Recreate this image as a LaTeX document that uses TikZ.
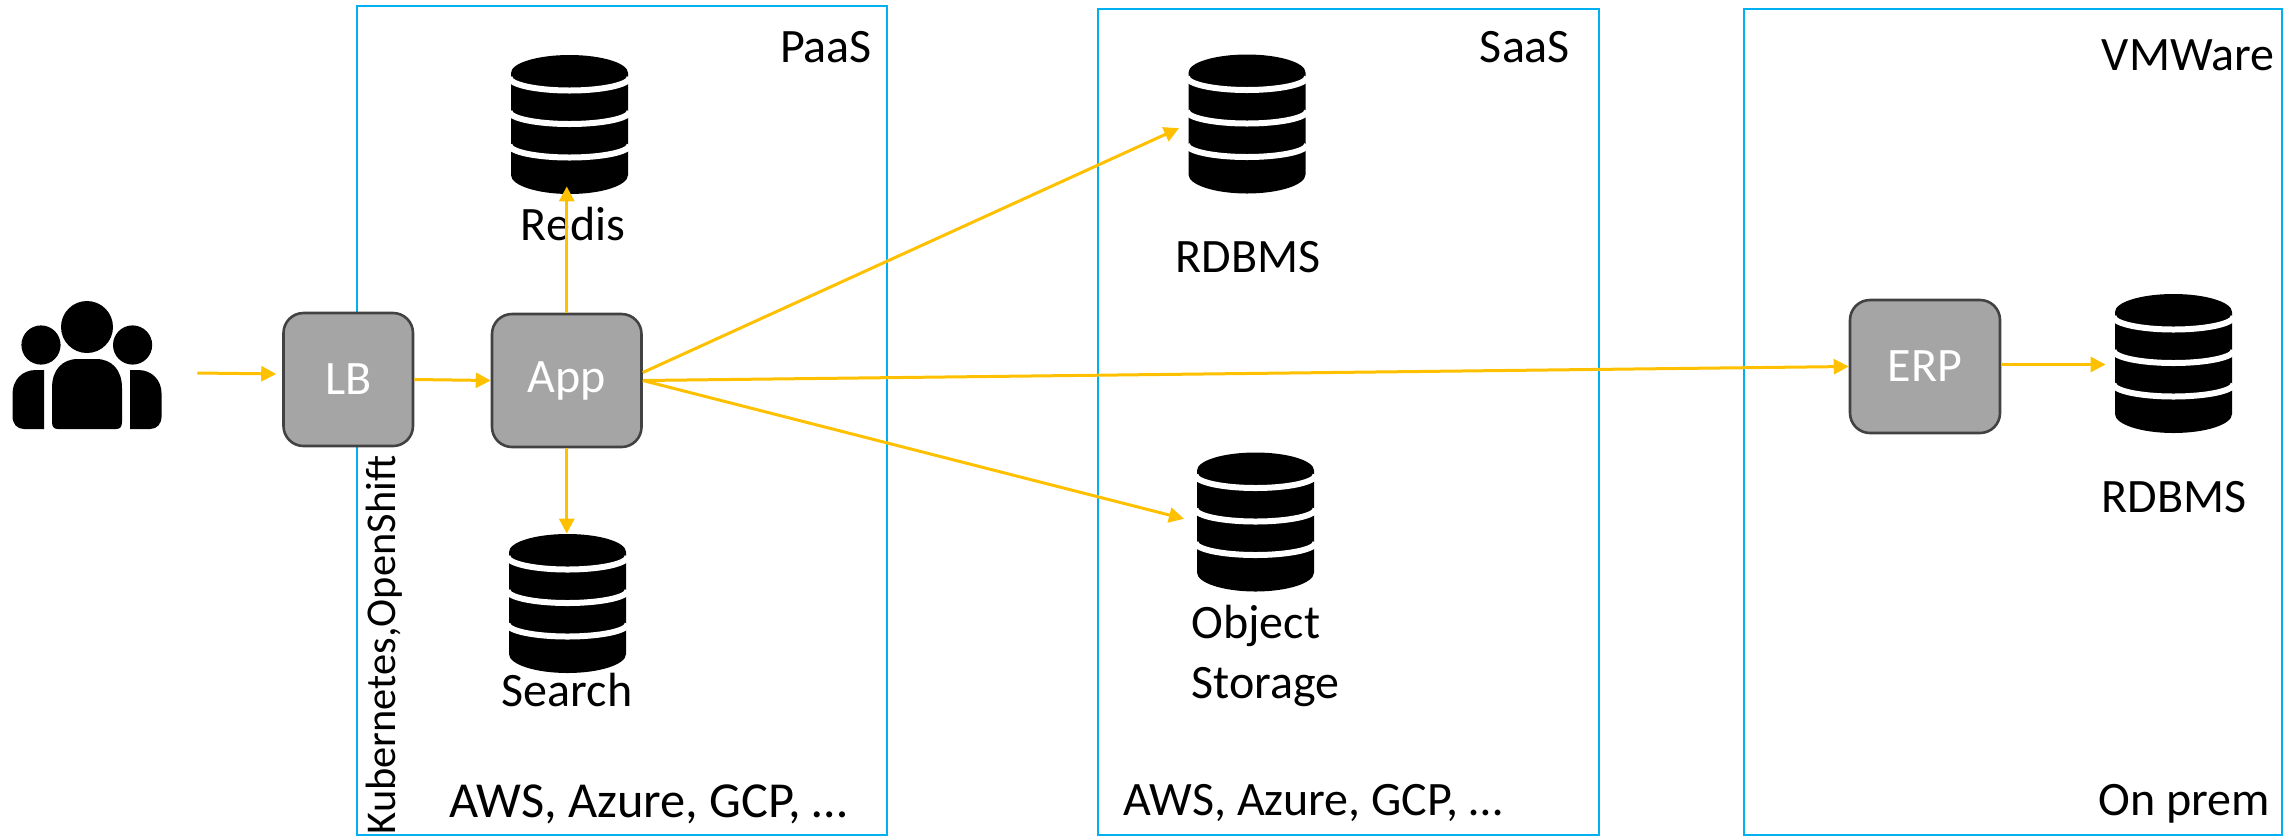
\documentclass[tikz,border=0pt]{standalone}
\usepackage{fontspec}
\setmainfont{Carlito}
\usetikzlibrary{arrows.meta,calc}
\definecolor{zoneblue}{HTML}{00B0F0}
\definecolor{flowgold}{HTML}{FFC000}
\definecolor{boxgrey}{HTML}{A5A5A5}
\definecolor{boxline}{HTML}{424242}
\tikzset{
  zone/.style={draw=zoneblue,line width=1.3pt,inner sep=0pt},
  svc/.style={draw=boxline,fill=boxgrey,line width=1.3pt,rounded corners=10pt,text=white,font=\fontsize{24}{28}\selectfont,inner sep=0pt},
  lab/.style={font=\fontsize{24}{30}\selectfont,inner sep=0pt,text=black},
  iconbox/.style={inner sep=0pt,minimum width=58.5pt,minimum height=69.5pt},
  flow/.style={draw=flowgold,line width=1.5pt,-{Triangle[length=7.5pt,width=7.5pt]}},
}
\newcommand{\dbarc}[2]{\draw[white,line width=3pt] (-60,#1) .. controls (-60,{#1+.55*#2}) and (-33,{#1+#2}) .. (0,{#1+#2}) .. controls (33,{#1+#2}) and (60,{#1+.55*#2}) .. (60,#1);}
\newcommand{\dbnode}[3]{%
  \node[iconbox] (#1) at (#2,#3) {};
  \begin{scope}[shift={(#1.center)}]
    \fill[black] (-58.5,-51.5) .. controls (-58.5,-61.5) and (-32,-69.5) .. (0,-69.5) .. controls (32,-69.5) and (58.5,-61.5) .. (58.5,-51.5)
      -- (58.5,50.5) .. controls (58.5,61) and (32,69.5) .. (0,69.5) .. controls (-32,69.5) and (-58.5,61) .. (-58.5,50.5) -- cycle;
    \dbarc{-47}{13}
    \dbarc{-13}{12.5}
    \dbarc{20.5}{12.5}
  \end{scope}}
\begin{document}
\begin{tikzpicture}[x=0.5pt,y=-0.5pt]
\useasboundingbox (0,0) rectangle (2292,836);
% zones
\node[zone,minimum width=265pt,minimum height=414.5pt] (paas) at (622,420.5) {};
\node[zone,minimum width=250.5pt,minimum height=413pt] (saas) at (1348.5,422) {};
\node[zone,minimum width=269pt,minimum height=413pt] (onprem) at (2013,422) {};
% users icon
\node[inner sep=0pt,minimum width=74.5pt,minimum height=64pt] (users) at (87,365) {};
\fill[black] (87,327) circle[radius=13pt];
\fill[black] (41,345) circle[radius=9.8pt];
\fill[black] (132.6,345) circle[radius=9.8pt];
\fill[black] (52,422) -- (52,388) .. controls (52,370) and (62,359) .. (78,359) -- (96,359) .. controls (112,359) and (122,370) .. (122,388) -- (122,422) .. controls (122,427) and (120,429) .. (116,429) -- (58,429) .. controls (54,429) and (52,427) .. (52,422) -- cycle;
\fill[black] (44,370) -- (44,429) -- (24,429) .. controls (17,429) and (12.5,424) .. (12.5,416) -- (12.5,394) .. controls (12.5,380) and (22,370) .. (36,370) -- cycle;
\fill[black] (130,370) -- (130,429) -- (150,429) .. controls (157,429) and (161.6,424) .. (161.6,416) -- (161.6,394) .. controls (161.6,380) and (152,370) .. (138,370) -- cycle;
% databases
\dbnode{redis}{569.5}{124.5}
\dbnode{search}{567.5}{603.5}
\dbnode{saasdb}{1247}{124}
\dbnode{objdb}{1255.5}{522}
\dbnode{vmdb}{2173.5}{363.5}
% service boxes
\node[svc,minimum width=64.75pt,minimum height=66.5pt] (lb) at (348.25,379.5) {LB};
\node[svc,minimum width=74.75pt,minimum height=66.5pt] (app) at (566.75,380.5) {App};
\node[svc,minimum width=75pt,minimum height=66.5pt] (erp) at (1925,366.5) {ERP};
% labels
\node[lab] (tpaas) at (826,47) {PaaS};
\node[lab] (tsaas) at (1525,47) {SaaS};
\node[lab] (tvm) at (2188,55) {VMWare};
\node[lab] (tprem) at (2184,804) {On prem};
\node[lab,font=\fontsize{25.2}{30}\selectfont] (taws) at (648,804) {AWS, Azure, GCP, …};
\node[lab] (taws2) at (1313,803) {AWS, Azure, GCP, …};
\node[lab,rotate=90,font=\fontsize{21.2}{26}\selectfont] (tk8s) at (384,645) {Kubernetes,OpenShift};
\node[lab] (tredis) at (573,224) {Redis};
\node[lab] (tsearch) at (567,690) {Search};
\node[lab] (trd1) at (1248,257) {RDBMS};
\node[lab] (trd2) at (2174,497) {RDBMS};
\node[lab,anchor=north west,align=left] (tobj) at (1191,605) {Object\\Storage};
% connectors
\draw[flow,shorten >=3pt] ([xshift=17.7pt,yshift=-4pt]users.east) -- ([yshift=2.75pt]lb.west);
\draw[flow] (lb.east) -- (app.west);
\draw[flow,shorten >=-4pt] (app.north) -- (app.north |- redis.south);
\draw[flow] (app.south) -- (app.south |- search.north);
\draw[flow,shorten >=5pt] ([yshift=4pt]app.east) -- (saasdb.west);
\draw[flow] (app.east) -- (erp.west);
\draw[flow,shorten >=6.5pt] (app.east) -- (objdb.west);
\draw[flow,shorten >=4.5pt] ([yshift=1pt]erp.east) -- ([yshift=1pt]erp.east -| vmdb.west);
\end{tikzpicture}
\end{document}
